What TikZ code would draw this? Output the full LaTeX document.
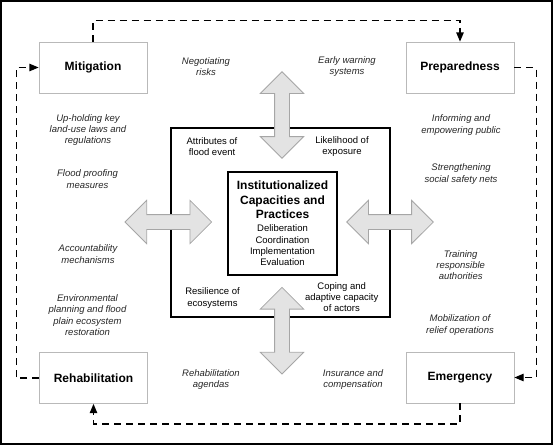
\documentclass[tikz,border=0pt]{standalone}
\usepackage{fontspec}
\setmainfont{Liberation Sans}
\usepackage{tikz}
\usetikzlibrary{arrows}
\usetikzlibrary{shapes.arrows}

\newcommand{\coretitle}[1]{{\fontsize{12}{14.5}\selectfont\bfseries #1}}

\tikzset{
  phase/.style={draw=gray!55, line width=0.9pt, minimum width=108pt, minimum height=51pt,
    font=\fontsize{12}{14}\selectfont\bfseries},
  note/.style={align=center, text=black!85, font=\fontsize{9.5}{11.3}\selectfont\itshape},
  factor/.style={align=center, font=\fontsize{9.5}{11.3}\selectfont},
  flow/.style={line width=1.1pt, dash pattern=on 7pt off 5pt, -triangle 45},
  dblarrow/.style={double arrow, draw=gray!70, fill=gray!22, line width=0.8pt,
    inner xsep=0pt, inner ysep=7pt, minimum height=86.6pt, double arrow head extend=14.3pt}
}

\begin{document}
\begin{tikzpicture}[x=1pt,y=-1pt]
\useasboundingbox (0,0) rectangle (553,445);
\draw[line width=1.6pt] (1,1) rectangle (552,444);

%phases
\node[phase] (mit)  at (93,67.5)  {Mitigation};
\node[phase] (prep) at (460,67.5) {Preparedness};
\node[phase] (reh)  at (93.5,378) {Rehabilitation};
\node[phase] (emer) at (460,377.5) {Emergency};

%cycle
\draw[flow] (mit.north) -- ++(0,-21.3) -| (prep.north);
\draw[flow] (prep.east) -- ++(22,0) |- (emer.east);
\draw[flow] (emer.south) -- ++(0,20.5) -| (reh.south);
\draw[flow] (reh.west) -- ++(-23,0) |- (mit.west);

%context
\node[draw, line width=1.4pt, minimum width=219pt, minimum height=189pt] (ctx) at (280.5,222.5) {};
\node[draw, line width=2.4pt, minimum width=109pt, minimum height=103pt, align=center,
  font=\fontsize{9.5}{11.3}\selectfont] (core) at (282.5,223.5)
  {\coretitle{Institutionalized}\\[3.2pt]\coretitle{Capacities and}\\[3.2pt]\coretitle{Practices}\\[1.7pt]
   Deliberation\\Coordination\\Implementation\\Evaluation};

\node[factor] (attr) at (212,146.5) {Attributes of\\flood event};
\node[factor] (lik)  at (342,146.5) {Likelihood of\\exposure};
\node[factor] (res)  at (212.5,298) {Resilience of\\ecosystems};
\node[factor] (cop)  at (341.7,297) {Coping and\\adaptive capacity\\of actors};

%exchange
\node[dblarrow, rotate=90] (up)    at (282,115)   {};
\node[dblarrow, rotate=90] (down)  at (282,330.7) {};
\node[dblarrow] (left)  at (168.3,222) {};
\node[dblarrow] (right) at (390,222)   {};

%measures
\node[note] (neg)  at (206,66.5)  {Negotiating\\risks};
\node[note] (ews)  at (347,66.5)  {Early warning\\systems};
\node[note] (law)  at (88,130)    {Up-holding key\\land-use laws and\\regulations};
\node[note] (fpm)  at (87.5,179)  {Flood proofing\\measures};
\node[note] (acc)  at (88,254)    {Accountability\\mechanisms};
\node[note] (env)  at (87.5,315)  {Environmental\\planning and flood\\plain ecosystem\\restoration};
\node[note] (rag)  at (211,379.5) {Rehabilitation\\agendas};
\node[note] (inf)  at (461,125)   {Informing and\\empowering public};
\node[note] (ssn)  at (461,174)   {Strengthening\\social safety nets};
\node[note] (trn)  at (460.7,265) {Training\\responsible\\authorities};
\node[note] (mob)  at (460,325)   {Mobilization of\\relief operations};
\node[note] (ins)  at (353,379.5) {Insurance and\\compensation};

\end{tikzpicture}
\end{document}
